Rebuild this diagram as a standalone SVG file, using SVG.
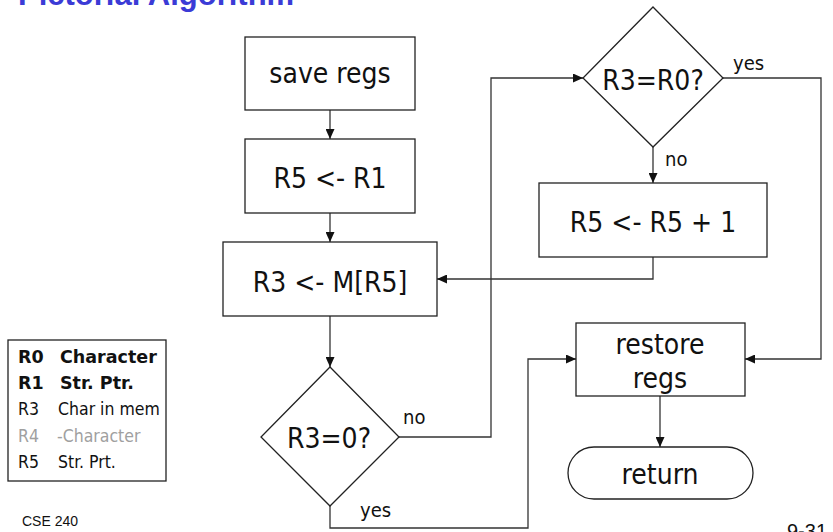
<svg xmlns="http://www.w3.org/2000/svg" width="833" height="532" viewBox="0 0 833 532">
  <style>
    .shape { fill: #ffffff; stroke: #222222; stroke-width: 1.3; }
    .wire { fill: none; stroke: #333333; stroke-width: 1.3; marker-end: url(#arrow); }
    .big { font-family: "DejaVu Sans Condensed", "DejaVu Sans", sans-serif; font-size: 28px; fill: #111111; text-anchor: middle; }
    .lbl { font-family: "DejaVu Sans Condensed", "DejaVu Sans", sans-serif; font-size: 20px; fill: #111111; }
    .leg { font-family: "DejaVu Sans Condensed", "DejaVu Sans", sans-serif; font-size: 17.5px; fill: #111111; }
    .legb { font-family: "DejaVu Sans", sans-serif; font-weight: bold; }
    .dim { fill: #a0a0a0; }
    .title { font-family: "Liberation Sans", Arial, sans-serif; font-size: 31px; font-weight: bold; fill: #3b3bd6; }
    .foot { font-family: "Liberation Sans", Arial, sans-serif; fill: #111111; }
  </style>
  <defs>
    <marker id="arrow" markerUnits="userSpaceOnUse" markerWidth="10" markerHeight="9" refX="10" refY="4.5" orient="auto">
      <path d="M0,0 L10,4.5 L0,9 z" fill="#111111"/>
    </marker>
  </defs>

  <!-- slide heading, mostly above the top edge -->
  <text class="title" x="18" y="5">Pictorial Algorithm</text>

  <g id="connectors">
    <path class="wire" d="M330,110 V139"/>
    <path class="wire" d="M330,213 V242"/>
    <path class="wire" d="M330,316 V367"/>
    <path class="wire" d="M399,437 H491 V78 H583"/>
    <path class="wire" d="M653,147 V183"/>
    <path class="wire" d="M653,257 V279 H437"/>
    <path class="wire" d="M723,78 H821 V359 H745"/>
    <path class="wire" d="M330,506 V528 H528 V359 H576"/>
    <path class="wire" d="M660,396 V447"/>
    <text class="lbl" x="403" y="424">no</text>
    <text class="lbl" x="360" y="517">yes</text>
    <text class="lbl" x="733" y="70">yes</text>
    <text class="lbl" x="665" y="166">no</text>
  </g>

  <g id="save-regs">
    <rect class="shape" x="245" y="37" width="170" height="73"/>
    <text class="big" x="330" y="83">save regs</text>
  </g>
  <g id="init-ptr">
    <rect class="shape" x="245" y="139" width="170" height="74"/>
    <text class="big" x="330" y="188">R5 &lt;- R1</text>
  </g>
  <g id="load-char">
    <rect class="shape" x="223" y="242" width="214" height="74"/>
    <text class="big" x="330" y="292">R3 &lt;- M[R5]</text>
  </g>
  <g id="test-zero">
    <polygon class="shape" points="330,367 399,437 330,506 261,437"/>
    <text class="big" x="329" y="448">R3=0?</text>
  </g>
  <g id="test-match">
    <polygon class="shape" points="653,7 723,78 653,147 583,78"/>
    <text class="big" x="653" y="90">R3=R0?</text>
  </g>
  <g id="next-ptr">
    <rect class="shape" x="539" y="183" width="228" height="74"/>
    <text class="big" x="653" y="232">R5 &lt;- R5 + 1</text>
  </g>
  <g id="restore-regs">
    <rect class="shape" x="576" y="323" width="169" height="73"/>
    <text class="big" x="660" y="354">restore</text>
    <text class="big" x="660" y="388">regs</text>
  </g>
  <g id="return">
    <rect class="shape" x="568" y="447" width="185" height="52" rx="26" ry="26"/>
    <text class="big" x="660" y="484">return</text>
  </g>

  <g id="legend">
    <rect class="shape" x="8" y="340" width="158" height="141"/>
    <text class="leg legb" x="18" y="363">R0</text><text class="leg legb" x="60" y="363">Character</text>
    <text class="leg legb" x="18" y="389">R1</text><text class="leg legb" x="60" y="389">Str. Ptr.</text>
    <text class="leg" x="18" y="415">R3</text><text class="leg" x="58" y="415">Char in mem</text>
    <text class="leg dim" x="18" y="442">R4</text><text class="leg dim" x="57" y="442">-Character</text>
    <text class="leg" x="18" y="468">R5</text><text class="leg" x="58" y="468">Str. Prt.</text>
  </g>

  <text class="foot" x="22" y="526" font-size="14">CSE 240</text>
  <text class="foot" x="787" y="538" font-size="20">9-31</text>
</svg>
